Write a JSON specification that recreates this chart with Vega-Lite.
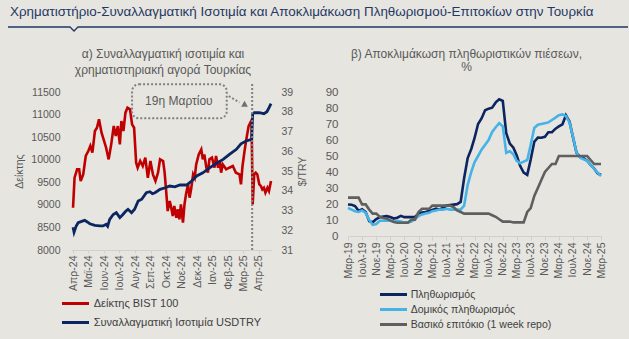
{
  "$schema": "https://vega.github.io/schema/vega-lite/v6.json",
  "background": "#e6e5e0",
  "padding": {"left": 5, "top": 5, "right": 4, "bottom": 10},
  "config": {
    "font": "Liberation Sans",
    "view": {"stroke": null},
    "axis": {"labelColor": "#595959", "titleColor": "#595959", "labelFont": "Liberation Sans", "titleFont": "Liberation Sans", "titleFontWeight": "normal", "grid": false},
    "legend": {"labelColor": "#404040", "labelFont": "Liberation Sans"},
    "title": {"font": "Liberation Sans", "fontWeight": "normal", "color": "#595959"}
  },
  "spacing": 61,
  "bounds": "flush",
  "resolve": {"scale": {"color": "independent", "x": "independent", "y": "independent"}, "legend": {"color": "independent"}},
  "vconcat": [
    {
      "width": 557,
      "height": 4,
      "title": {"text": "Χρηματιστήριο-Συναλλαγματική Ισοτιμία και Αποκλιμάκωση Πληθωρισμού-Επιτοκίων στην Τουρκία", "frame": "group", "anchor": "start", "dx": -61, "offset": 6, "fontSize": 13.4, "color": "#1f3864"},
      "data": {"values": [
        {"x": -0.1131, "y": 0}, {"x": -0.0018, "y": 0}, {"x": 0.0054, "y": -1}, {"x": 0.0126, "y": 0}, {"x": 1.0, "y": 0}
      ]},
      "mark": {"type": "line", "color": "#1f3864", "strokeWidth": 1.3, "clip": false},
      "encoding": {
        "x": {"field": "x", "type": "quantitative", "scale": {"domain": [0, 1]}, "axis": null},
        "y": {"field": "y", "type": "quantitative", "scale": {"domain": [-1, 0]}, "axis": null}
      }
    },
    {
      "hconcat": [
        {
          "width": 200,
          "height": 158,
          "title": {"text": ["α) Συναλλαγματική ισοτιμία και", "χρηματιστηριακή αγορά Τουρκίας"], "frame": "group", "anchor": "middle", "dx": -8, "offset": 5, "fontSize": 12, "lineHeight": 15.5},
          "resolve": {"scale": {"y": "independent"}},
          "layer": [
            {
              "data": {"values": [
                {"d": "2024-04-01", "v": 8937}, {"d": "2024-04-04", "v": 9601}, {"d": "2024-04-09", "v": 9787}, {"d": "2024-04-13", "v": 9787},
                {"d": "2024-04-16", "v": 9528}, {"d": "2024-04-21", "v": 9676}, {"d": "2024-04-26", "v": 10082}, {"d": "2024-05-01", "v": 10193},
                {"d": "2024-05-05", "v": 10304}, {"d": "2024-05-09", "v": 10155}, {"d": "2024-05-14", "v": 10636}, {"d": "2024-05-18", "v": 10709},
                {"d": "2024-05-22", "v": 10895}, {"d": "2024-05-27", "v": 10598}, {"d": "2024-05-30", "v": 10488}, {"d": "2024-06-02", "v": 10377},
                {"d": "2024-06-05", "v": 10266}, {"d": "2024-06-10", "v": 10008}, {"d": "2024-06-15", "v": 10340}, {"d": "2024-06-20", "v": 10746},
                {"d": "2024-06-24", "v": 10525}, {"d": "2024-06-28", "v": 10746}, {"d": "2024-07-02", "v": 10340}, {"d": "2024-07-05", "v": 10857},
                {"d": "2024-07-09", "v": 10636}, {"d": "2024-07-13", "v": 11042}, {"d": "2024-07-17", "v": 11153}, {"d": "2024-07-22", "v": 11116},
                {"d": "2024-07-26", "v": 10784}, {"d": "2024-07-30", "v": 10709}, {"d": "2024-08-03", "v": 9934}, {"d": "2024-08-06", "v": 9823},
                {"d": "2024-08-11", "v": 9971}, {"d": "2024-08-16", "v": 9860}, {"d": "2024-08-21", "v": 10045}, {"d": "2024-08-26", "v": 9601},
                {"d": "2024-08-31", "v": 9971}, {"d": "2024-09-05", "v": 9676}, {"d": "2024-09-10", "v": 9528}, {"d": "2024-09-15", "v": 9713},
                {"d": "2024-09-19", "v": 10008}, {"d": "2024-09-25", "v": 9971}, {"d": "2024-09-28", "v": 9713}, {"d": "2024-10-01", "v": 9306},
                {"d": "2024-10-04", "v": 8863}, {"d": "2024-10-08", "v": 9085}, {"d": "2024-10-11", "v": 8937}, {"d": "2024-10-14", "v": 8753},
                {"d": "2024-10-17", "v": 8975}, {"d": "2024-10-21", "v": 8716}, {"d": "2024-10-24", "v": 8901}, {"d": "2024-10-27", "v": 8680},
                {"d": "2024-10-30", "v": 9012}, {"d": "2024-11-03", "v": 8605}, {"d": "2024-11-06", "v": 9012}, {"d": "2024-11-09", "v": 9234},
                {"d": "2024-11-13", "v": 9455}, {"d": "2024-11-16", "v": 9158}, {"d": "2024-11-19", "v": 9344}, {"d": "2024-11-23", "v": 9676},
                {"d": "2024-11-26", "v": 9601}, {"d": "2024-11-29", "v": 9897}, {"d": "2024-12-04", "v": 10119}, {"d": "2024-12-09", "v": 10230},
                {"d": "2024-12-12", "v": 10008}, {"d": "2024-12-15", "v": 10119}, {"d": "2024-12-19", "v": 9823}, {"d": "2024-12-22", "v": 9713},
                {"d": "2024-12-25", "v": 10008}, {"d": "2024-12-30", "v": 10045}, {"d": "2025-01-04", "v": 9823}, {"d": "2025-01-07", "v": 10082},
                {"d": "2025-01-11", "v": 9823}, {"d": "2025-01-14", "v": 9971}, {"d": "2025-01-17", "v": 9713}, {"d": "2025-01-20", "v": 9897},
                {"d": "2025-01-27", "v": 9787}, {"d": "2025-02-02", "v": 9823}, {"d": "2025-02-09", "v": 9860}, {"d": "2025-02-15", "v": 9713},
                {"d": "2025-02-22", "v": 9676}, {"d": "2025-02-25", "v": 9455}, {"d": "2025-02-28", "v": 9860}, {"d": "2025-03-04", "v": 10193},
                {"d": "2025-03-07", "v": 10414}, {"d": "2025-03-12", "v": 10746}, {"d": "2025-03-17", "v": 10857}, {"d": "2025-03-18", "v": 10700},
                {"d": "2025-03-20", "v": 9012}, {"d": "2025-03-23", "v": 9676}, {"d": "2025-03-26", "v": 9713}, {"d": "2025-03-29", "v": 9676},
                {"d": "2025-04-02", "v": 9455}, {"d": "2025-04-05", "v": 9420}, {"d": "2025-04-08", "v": 9344}, {"d": "2025-04-11", "v": 9380},
                {"d": "2025-04-14", "v": 9270}, {"d": "2025-04-18", "v": 9380}, {"d": "2025-04-21", "v": 9306}, {"d": "2025-04-25", "v": 9528}
              ]},
              "mark": {"type": "line", "strokeWidth": 2.6},
              "encoding": {
                "x": {"field": "d", "type": "temporal",
                  "scale": {"domain": [{"year": 2024, "month": 3, "date": 28}, {"year": 2025, "month": 4, "date": 25}]},
                  "axis": {"title": null, "tickCount": {"interval": "month", "step": 1}, "labelAngle": -90, "labelFontSize": 10.5, "labelPadding": 2, "tickSize": 3, "domainColor": "#d0d0d0", "tickColor": "#d0d0d0", "labelOverlap": false,
                    "labelExpr": "['Ιαν','Φεβ','Μαρ','Απρ','Μαϊ','Ιουν','Ιουλ','Αυγ','Σεπ','Οκτ','Νοε','Δεκ'][month(datum.value)] + '-' + timeFormat(datum.value, '%y')"}},
                "y": {"field": "v", "type": "quantitative", "scale": {"domain": [8000, 11500]},
                  "axis": {"orient": "left", "title": "Δείκτης", "format": "d", "titleFontSize": 10.5, "titlePadding": 6, "values": [8000, 8500, 9000, 9500, 10000, 10500, 11000, 11500], "domain": false, "ticks": false, "labelPadding": 11, "labelFontSize": 10.5}},
                "color": {"datum": "Δείκτης BIST 100", "type": "nominal",
                  "scale": {"domain": ["Δείκτης BIST 100", "Συναλλαγματική Ισοτιμία USDTRY"], "range": ["#c00000", "#0b2560"]},
                  "legend": {"orient": "none", "legendX": -4, "legendY": 203, "direction": "vertical", "title": null, "symbolType": "M-2,0H2", "symbolSize": 182, "symbolStrokeWidth": 3, "labelFontSize": 11, "labelOffset": 9.75, "labelLimit": 0, "rowPadding": 4}}
              }
            },
            {
              "data": {"values": [
                {"d": "2024-04-01", "u": 32.15}, {"d": "2024-04-03", "u": 31.9}, {"d": "2024-04-07", "u": 32.2}, {"d": "2024-04-11", "u": 32.38},
                {"d": "2024-04-18", "u": 32.45}, {"d": "2024-04-24", "u": 32.5}, {"d": "2024-04-29", "u": 32.42}, {"d": "2024-05-04", "u": 32.33},
                {"d": "2024-05-14", "u": 32.25}, {"d": "2024-05-24", "u": 32.22}, {"d": "2024-05-30", "u": 32.22}, {"d": "2024-06-05", "u": 32.3},
                {"d": "2024-06-08", "u": 32.2}, {"d": "2024-06-12", "u": 32.55}, {"d": "2024-06-19", "u": 32.8}, {"d": "2024-06-25", "u": 32.89},
                {"d": "2024-07-02", "u": 32.64}, {"d": "2024-07-08", "u": 32.8}, {"d": "2024-07-13", "u": 32.95}, {"d": "2024-07-18", "u": 33.06},
                {"d": "2024-07-25", "u": 32.89}, {"d": "2024-07-31", "u": 33.06}, {"d": "2024-08-07", "u": 33.48}, {"d": "2024-08-14", "u": 33.57},
                {"d": "2024-08-23", "u": 33.9}, {"d": "2024-08-30", "u": 33.95}, {"d": "2024-09-04", "u": 33.85}, {"d": "2024-09-09", "u": 33.9},
                {"d": "2024-09-19", "u": 34.07}, {"d": "2024-09-29", "u": 34.15}, {"d": "2024-10-08", "u": 34.24}, {"d": "2024-10-18", "u": 34.2},
                {"d": "2024-10-28", "u": 34.29}, {"d": "2024-11-10", "u": 34.29}, {"d": "2024-11-20", "u": 34.49}, {"d": "2024-11-30", "u": 34.75},
                {"d": "2024-12-12", "u": 34.91}, {"d": "2024-12-26", "u": 35.17}, {"d": "2025-01-08", "u": 35.39}, {"d": "2025-01-21", "u": 35.59},
                {"d": "2025-02-03", "u": 35.85}, {"d": "2025-02-16", "u": 36.1}, {"d": "2025-02-25", "u": 36.38}, {"d": "2025-03-07", "u": 36.52},
                {"d": "2025-03-18", "u": 36.6}, {"d": "2025-03-20", "u": 37.9}, {"d": "2025-03-23", "u": 37.95}, {"d": "2025-04-02", "u": 37.95},
                {"d": "2025-04-11", "u": 37.9}, {"d": "2025-04-17", "u": 38.0}, {"d": "2025-04-21", "u": 38.2}, {"d": "2025-04-25", "u": 38.41}
              ]},
              "mark": {"type": "line", "strokeWidth": 2.8},
              "encoding": {
                "x": {"field": "d", "type": "temporal"},
                "y": {"field": "u", "type": "quantitative", "scale": {"domain": [31, 39]},
                  "axis": {"orient": "right", "title": "$/TRY", "titleAngle": -90, "titleFontSize": 10.5, "titlePadding": 15, "values": [31, 32, 33, 34, 35, 36, 37, 38, 39], "domain": false, "ticks": false, "labelPadding": 10, "labelFontSize": 10.5}},
                "color": {"datum": "Συναλλαγματική Ισοτιμία USDTRY", "type": "nominal"}
              }
            },
            {
              "layer": [
                {
                  "data": {"values": [{"d": "2025-03-19", "a": 8000, "b": 11700}]},
                  "mark": {"type": "rule", "strokeDash": [2, 2], "strokeWidth": 2, "color": "#808080"},
                  "encoding": {
                    "x": {"field": "d", "type": "temporal"},
                    "y": {"field": "a", "type": "quantitative", "scale": {"domain": [8000, 11500]}, "axis": null},
                    "y2": {"field": "b"}
                  }
                },
                {
                  "data": {"values": [{"d1": "2024-07-26", "d2": "2025-01-28", "a": 10917, "b": 11670}]},
                  "mark": {"type": "rect", "fill": "transparent", "stroke": "#808080", "strokeDash": [2, 2], "strokeWidth": 2, "cornerRadius": 7},
                  "encoding": {
                    "x": {"field": "d1", "type": "temporal"},
                    "x2": {"field": "d2"},
                    "y": {"field": "a", "type": "quantitative", "scale": {"domain": [8000, 11500]}, "axis": null},
                    "y2": {"field": "b"}
                  }
                },
                {
                  "data": {"values": [{"d": "2024-10-26", "v": 11310, "t": "19η Μαρτίου"}]},
                  "mark": {"type": "text", "fontSize": 12, "color": "#595959", "align": "center", "baseline": "middle"},
                  "encoding": {
                    "x": {"field": "d", "type": "temporal"},
                    "y": {"field": "v", "type": "quantitative", "scale": {"domain": [8000, 11500]}, "axis": null},
                    "text": {"field": "t"}
                  }
                },
                {
                  "data": {"values": [{"d": "2025-02-01", "v": 11411}, {"d": "2025-02-22", "v": 11267}]},
                  "mark": {"type": "line", "strokeDash": [2, 2], "strokeWidth": 2, "color": "#808080"},
                  "encoding": {
                    "x": {"field": "d", "type": "temporal"},
                    "y": {"field": "v", "type": "quantitative", "scale": {"domain": [8000, 11500]}, "axis": null}
                  }
                },
                {
                  "data": {"values": [{"d": "2025-03-04", "v": 11240}]},
                  "mark": {"type": "point", "shape": "triangle-up", "size": 45, "filled": true, "color": "#707070", "opacity": 1},
                  "encoding": {
                    "x": {"field": "d", "type": "temporal"},
                    "y": {"field": "v", "type": "quantitative", "scale": {"domain": [8000, 11500]}, "axis": null}
                  }
                }
              ]
            }
          ]
        },
        {
          "width": 253,
          "height": 144,
          "title": {"text": ["β) Αποκλιμάκωση πληθωριστικών πιέσεων,", "%"], "frame": "group", "anchor": "middle", "dx": -8, "offset": 12, "fontSize": 12, "lineHeight": 13},
          "data": {"values": [
            {"d": "2019-03-01", "a": 19.7, "b": 17.5, "c": 24}, {"d": "2019-04-01", "a": 19.5, "b": 16.5, "c": 24},
            {"d": "2019-05-01", "a": 18.7, "b": 15.5, "c": 24}, {"d": "2019-06-01", "a": 15.7, "b": 15, "c": 24},
            {"d": "2019-07-01", "a": 16.7, "b": 16, "c": 19.75}, {"d": "2019-08-01", "a": 15.0, "b": 14.5, "c": 19.75},
            {"d": "2019-09-01", "a": 9.3, "b": 10, "c": 16.5}, {"d": "2019-10-01", "a": 8.6, "b": 7, "c": 14},
            {"d": "2019-11-01", "a": 10.6, "b": 7.5, "c": 14}, {"d": "2019-12-01", "a": 11.8, "b": 9.5, "c": 12},
            {"d": "2020-01-01", "a": 12.2, "b": 9.5, "c": 11.25}, {"d": "2020-02-01", "a": 12.4, "b": 9.5, "c": 10.75},
            {"d": "2020-03-01", "a": 11.9, "b": 9.5, "c": 9.75}, {"d": "2020-04-01", "a": 10.9, "b": 9, "c": 8.75},
            {"d": "2020-05-01", "a": 11.4, "b": 9.5, "c": 8.25}, {"d": "2020-06-01", "a": 12.6, "b": 9, "c": 8.25},
            {"d": "2020-07-01", "a": 11.8, "b": 8.5, "c": 8.25}, {"d": "2020-08-01", "a": 11.8, "b": 8.5, "c": 8.25},
            {"d": "2020-09-01", "a": 11.8, "b": 9, "c": 10.25}, {"d": "2020-10-01", "a": 11.9, "b": 10.5, "c": 10.25},
            {"d": "2020-11-01", "a": 14.0, "b": 12.5, "c": 15}, {"d": "2020-12-01", "a": 14.6, "b": 13.5, "c": 17},
            {"d": "2021-01-01", "a": 15.0, "b": 14, "c": 17}, {"d": "2021-02-01", "a": 15.6, "b": 14.5, "c": 17},
            {"d": "2021-03-01", "a": 16.2, "b": 15.5, "c": 19}, {"d": "2021-04-01", "a": 17.1, "b": 16, "c": 19},
            {"d": "2021-05-01", "a": 16.6, "b": 16.5, "c": 19}, {"d": "2021-06-01", "a": 17.5, "b": 16.5, "c": 19},
            {"d": "2021-07-01", "a": 19.0, "b": 17, "c": 19}, {"d": "2021-08-01", "a": 19.3, "b": 16.5, "c": 19},
            {"d": "2021-09-01", "a": 19.6, "b": 16.5, "c": 18}, {"d": "2021-10-01", "a": 19.9, "b": 16.5, "c": 16},
            {"d": "2021-11-01", "a": 21.3, "b": 16.5, "c": 15}, {"d": "2021-12-01", "a": 36.1, "b": 19, "c": 14},
            {"d": "2022-01-01", "a": 48.7, "b": 32, "c": 14}, {"d": "2022-02-01", "a": 54.4, "b": 40, "c": 14},
            {"d": "2022-03-01", "a": 61.1, "b": 46, "c": 14}, {"d": "2022-04-01", "a": 70.0, "b": 50, "c": 14},
            {"d": "2022-05-01", "a": 73.5, "b": 54, "c": 14}, {"d": "2022-06-01", "a": 78.6, "b": 57, "c": 14},
            {"d": "2022-07-01", "a": 79.6, "b": 60, "c": 14}, {"d": "2022-08-01", "a": 80.2, "b": 65, "c": 13},
            {"d": "2022-09-01", "a": 83.5, "b": 68, "c": 12}, {"d": "2022-10-01", "a": 85.5, "b": 70.5, "c": 10.5},
            {"d": "2022-11-01", "a": 84.4, "b": 68.5, "c": 9}, {"d": "2022-12-01", "a": 64.3, "b": 52, "c": 9},
            {"d": "2023-01-01", "a": 57.7, "b": 53, "c": 9}, {"d": "2023-02-01", "a": 55.2, "b": 51, "c": 8.5},
            {"d": "2023-03-01", "a": 50.5, "b": 47, "c": 8.5}, {"d": "2023-04-01", "a": 43.7, "b": 45.5, "c": 8.5},
            {"d": "2023-05-01", "a": 39.6, "b": 46.5, "c": 8.5}, {"d": "2023-06-01", "a": 38.2, "b": 47.5, "c": 15},
            {"d": "2023-07-01", "a": 47.8, "b": 57, "c": 17.5}, {"d": "2023-08-01", "a": 58.9, "b": 67.5, "c": 25},
            {"d": "2023-09-01", "a": 61.5, "b": 69.5, "c": 30}, {"d": "2023-10-01", "a": 61.4, "b": 70, "c": 35},
            {"d": "2023-11-01", "a": 62.0, "b": 70.5, "c": 40}, {"d": "2023-12-01", "a": 64.8, "b": 71, "c": 42.5},
            {"d": "2024-01-01", "a": 64.9, "b": 72.5, "c": 45}, {"d": "2024-02-01", "a": 67.1, "b": 74, "c": 45},
            {"d": "2024-03-01", "a": 68.5, "b": 75.5, "c": 50}, {"d": "2024-04-01", "a": 69.8, "b": 76, "c": 50},
            {"d": "2024-05-01", "a": 75.5, "b": 75, "c": 50}, {"d": "2024-06-01", "a": 71.6, "b": 71, "c": 50},
            {"d": "2024-07-01", "a": 61.8, "b": 62, "c": 50}, {"d": "2024-08-01", "a": 52.0, "b": 52, "c": 50},
            {"d": "2024-09-01", "a": 49.4, "b": 49, "c": 50}, {"d": "2024-10-01", "a": 48.6, "b": 48, "c": 50},
            {"d": "2024-11-01", "a": 47.1, "b": 47, "c": 50}, {"d": "2024-12-01", "a": 44.4, "b": 44.5, "c": 47.5},
            {"d": "2025-01-01", "a": 42.1, "b": 42, "c": 45}, {"d": "2025-02-01", "a": 39.1, "b": 39.5, "c": 45},
            {"d": "2025-03-01", "a": 38.1, "b": 37.5, "c": 45}
          ]},
          "transform": [{"fold": ["a", "b", "c"], "as": ["s", "v"]}],
          "mark": {"type": "line", "strokeWidth": 2.6},
          "encoding": {
            "x": {"field": "d", "type": "temporal",
              "scale": {"domain": [{"year": 2019, "month": 3, "date": 1}, {"year": 2025, "month": 3, "date": 1}]},
              "axis": {"title": null, "labelAngle": -90, "labelFontSize": 10.5, "labelPadding": 2, "tickSize": 4, "domainColor": "#d0d0d0", "tickColor": "#d0d0d0", "labelOverlap": false,
                "values": [
                  {"year": 2019, "month": 3, "date": 1}, {"year": 2019, "month": 7, "date": 1}, {"year": 2019, "month": 11, "date": 1},
                  {"year": 2020, "month": 3, "date": 1}, {"year": 2020, "month": 7, "date": 1}, {"year": 2020, "month": 11, "date": 1},
                  {"year": 2021, "month": 3, "date": 1}, {"year": 2021, "month": 7, "date": 1}, {"year": 2021, "month": 11, "date": 1},
                  {"year": 2022, "month": 3, "date": 1}, {"year": 2022, "month": 7, "date": 1}, {"year": 2022, "month": 11, "date": 1},
                  {"year": 2023, "month": 3, "date": 1}, {"year": 2023, "month": 7, "date": 1}, {"year": 2023, "month": 11, "date": 1},
                  {"year": 2024, "month": 3, "date": 1}, {"year": 2024, "month": 7, "date": 1}, {"year": 2024, "month": 11, "date": 1},
                  {"year": 2025, "month": 3, "date": 1}
                ],
                "labelExpr": "['Ιαν','Φεβ','Μαρ','Απρ','Μαϊ','Ιουν','Ιουλ','Αυγ','Σεπ','Οκτ','Νοε','Δεκ'][month(datum.value)] + '-' + timeFormat(datum.value, '%y')"}},
            "y": {"field": "v", "type": "quantitative", "scale": {"domain": [0, 90]},
              "axis": {"title": null, "values": [0, 10, 20, 30, 40, 50, 60, 70, 80, 90], "domain": false, "ticks": false, "labelPadding": 10, "labelFontSize": 11.5}},
            "color": {"field": "s", "type": "nominal",
              "scale": {"domain": ["a", "b", "c"], "range": ["#0b2560", "#45b3e7", "#5f5f5f"]},
              "legend": {"orient": "none", "legendX": 37, "legendY": 194, "direction": "vertical", "title": null, "symbolType": "M-2,0H2", "symbolSize": 182, "symbolStrokeWidth": 3, "labelFontSize": 10.5, "labelOffset": 8.75, "labelLimit": 0, "rowPadding": -1.5,
                "labelExpr": "datum.label == 'a' ? 'Πληθωρισμός' : datum.label == 'b' ? 'Δομικός πληθωρισμός' : 'Βασικό επιτόκιο (1 week repo)'"}}
          }
        }
      ],
      "spacing": 77,
      "bounds": "flush",
      "resolve": {"scale": {"color": "independent", "x": "independent", "y": "independent"}, "legend": {"color": "independent"}}
    }
  ]
}
